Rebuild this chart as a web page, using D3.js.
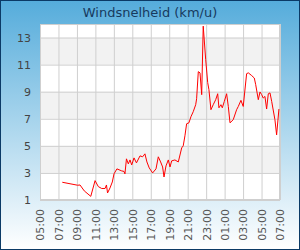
<!DOCTYPE html>
<html>
<head>
<meta charset="utf-8">
<script src="https://cdn.jsdelivr.net/npm/d3@7"></script>
<style>
  body { margin: 0; }
  svg { display: block; font-family: "DejaVu Sans", sans-serif; }
</style>
</head>
<body>
<div id="chart"></div>
<script>
// titel en data
var title = "Windsnelheid (km/u)";
var times = ["07:25", "09:05", "09:20", "09:48", "10:30", "10:58", "11:19", "11:41", "12:03", "12:12",
             "12:19", "12:35", "12:50", "13:01", "13:20", "13:51", "14:06", "14:12", "14:22", "14:34",
             "14:45", "14:56", "15:11", "15:27", "15:50", "16:07", "16:22", "16:35", "16:50", "17:12",
             "17:34", "17:49", "18:04", "18:17", "18:26", "18:39", "18:54", "19:05", "19:16", "19:37",
             "19:59", "20:21", "20:31", "20:42", "20:53", "21:08", "21:21", "21:36", "21:52", "21:58",
             "22:09", "22:20", "22:31", "22:41", "22:57", "23:10", "23:18", "23:31", "23:46", "00:02",
             "00:15", "00:23", "00:36", "00:45", "00:58", "01:13", "01:24", "01:35", "01:56", "02:18",
             "02:29", "02:46", "03:01", "03:23", "03:34", "03:56", "04:13", "04:22", "04:39", "04:50",
             "05:01", "05:11", "05:22", "05:33", "05:44", "05:55", "06:06", "06:27", "06:38", "06:53"];
var speeds = [2.31, 2.09, 2.11, 1.67, 1.27, 2.43, 1.99, 1.85, 1.85, 2.11,
              1.52, 1.89, 2.33, 2.93, 3.30, 3.15, 3.11, 2.93, 4.04, 3.67,
              3.96, 3.59, 4.11, 3.74, 4.26, 4.19, 4.41, 3.81, 3.37, 3.00,
              3.30, 4.19, 3.81, 3.44, 2.70, 3.52, 3.96, 3.44, 3.89, 3.96,
              3.81, 4.85, 5.00, 5.74, 6.63, 6.70, 7.15, 7.52, 8.04, 8.48,
              10.48, 10.39, 8.78, 13.84, 11.37, 9.67, 9.15, 7.67, 8.04, 8.41,
              8.85, 7.81, 8.04, 7.81, 8.28, 8.85, 7.91, 6.70, 6.93, 7.67,
              7.91, 8.36, 7.91, 10.33, 10.39, 10.19, 10.01, 9.52, 8.41, 8.98,
              8.78, 8.53, 8.65, 7.72, 8.85, 8.91, 8.28, 6.93, 5.81, 7.72];
var yTicks = [1, 3, 5, 7, 9, 11, 13];
var shadedBands = [[3, 5], [7, 9], [11, 13]];
var startTime = "05:00";
var endTime = "07:00";

// tijden omzetten naar datums (na middernacht = volgende dag)
function toDate(str, day) {
    var p = str.split(":");
    return new Date(2024, 0, 1 + day, +p[0], +p[1]);
}
var day = 0, prevHour = -1;
var points = times.map(function(t, i) {
    var h = +t.split(":")[0];
    if (h < prevHour) day++;
    prevHour = h;
    return { date: toDate(t, day), value: speeds[i] };
});
var xStart = toDate(startTime, 0);
var xEnd = toDate(endTime, 1);

var width = 300, height = 250;
var margin = { top: 24, right: 20, bottom: 50, left: 40 };
var plotW = width - margin.left - margin.right;
var plotH = height - margin.top - margin.bottom;

var svg = d3.select("#chart").append("svg")
    .attr("width", width)
    .attr("height", height);

var grad = svg.append("defs").append("linearGradient")
    .attr("id", "bg").attr("x1", 0).attr("y1", 0).attr("x2", 0).attr("y2", 1);
grad.append("stop").attr("offset", "0%").attr("stop-color", "#55acdb");
grad.append("stop").attr("offset", "100%").attr("stop-color", "#ffffff");

svg.append("rect")
    .attr("x", 0.5).attr("y", 0.5)
    .attr("width", width - 1).attr("height", height - 1)
    .attr("fill", "url(#bg)")
    .attr("stroke", "#0b3a66");

svg.append("text")
    .attr("x", width / 2)
    .attr("y", 17)
    .attr("text-anchor", "middle")
    .attr("font-size", 13)
    .attr("fill", "#173a5e")
    .text(title);

var x = d3.scaleTime().domain([xStart, xEnd]).range([0, plotW]);
var y = d3.scaleLinear().domain([1, 14]).range([plotH, 0]);

var g = svg.append("g").attr("transform", "translate(" + margin.left + "," + margin.top + ")");

g.append("rect").attr("width", plotW).attr("height", plotH).attr("fill", "#fff");

g.selectAll(".band")
    .data(shadedBands)
    .enter().append("rect")
    .attr("x", 0)
    .attr("width", plotW)
    .attr("y", function(d) { return y(d[1]); })
    .attr("height", function(d) { return y(d[0]) - y(d[1]); })
    .attr("fill", "#f2f2f2");

var xTicks = d3.timeHour.range(xStart, new Date(+xEnd + 1), 2);

var xAxis = g.append("g")
    .attr("transform", "translate(0," + plotH + ")")
    .call(d3.axisBottom(x).tickValues(xTicks).tickSize(-plotH).tickFormat(d3.timeFormat("%H:%M")));
xAxis.select(".domain").remove();
xAxis.selectAll("line").attr("stroke", "#cfcfcf");
xAxis.selectAll("text")
    .attr("transform", "rotate(-90)")
    .attr("text-anchor", "end")
    .attr("x", -9)
    .attr("y", 0)
    .attr("dy", "0.35em")
    .attr("font-size", 11)
    .attr("font-family", "DejaVu Sans")
    .attr("fill", "#555");

var yAxis = g.append("g")
    .call(d3.axisLeft(y).tickValues(yTicks).tickSize(-plotW).tickPadding(9));
yAxis.select(".domain").remove();
yAxis.selectAll("line").attr("stroke", "#cfcfcf");
yAxis.selectAll("text")
    .attr("font-size", 11)
    .attr("font-family", "DejaVu Sans")
    .attr("fill", "#444");

g.append("rect")
    .attr("x", 0.5).attr("y", 0.5)
    .attr("width", plotW - 1).attr("height", plotH - 1)
    .attr("fill", "none")
    .attr("stroke", "#cfcfcf");

var line = d3.line()
    .x(function(d) { return x(d.date); })
    .y(function(d) { return y(d.value); });

g.append("path")
    .datum(points)
    .attr("d", line)
    .attr("fill", "none")
    .attr("stroke", "#ff0000")
    .attr("stroke-width", 1);
</script>
</body>
</html>
